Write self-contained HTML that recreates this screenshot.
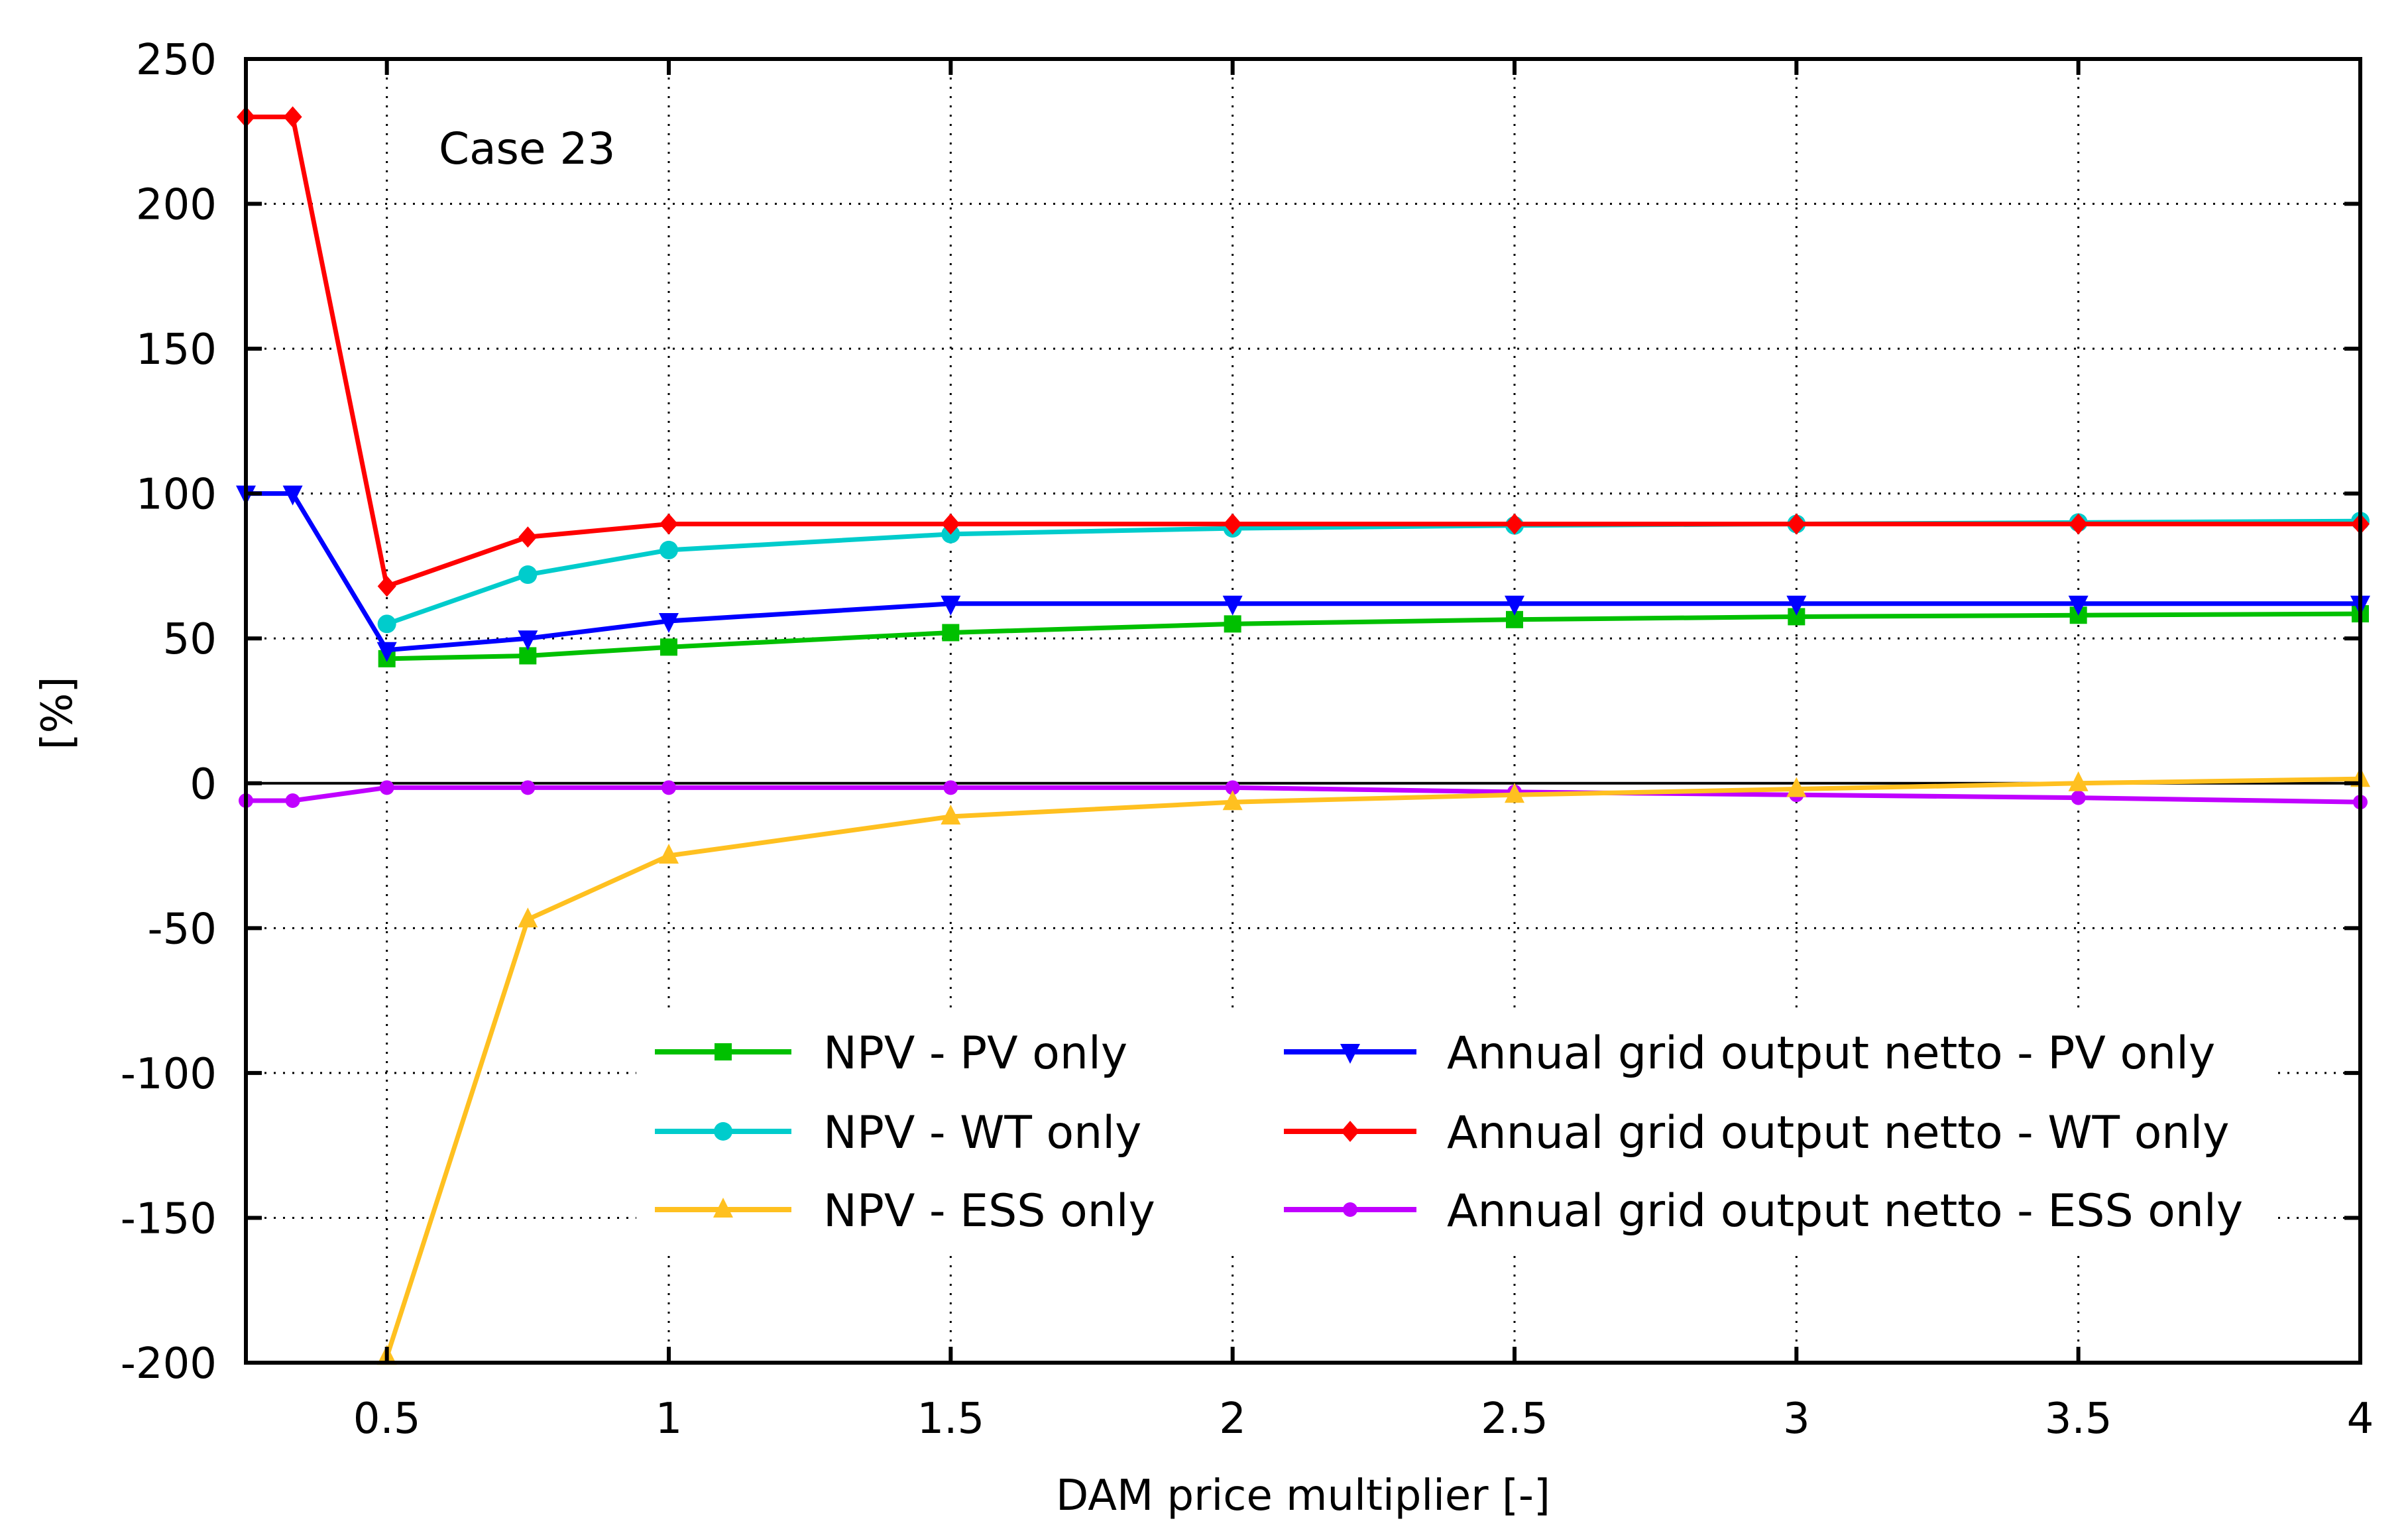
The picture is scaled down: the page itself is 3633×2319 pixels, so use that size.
<!DOCTYPE html>
<html><head><meta charset="utf-8"><style>
html,body{margin:0;padding:0;background:#fff}
svg{display:block}
text{font-family:"DejaVu Sans","Liberation Sans",sans-serif;fill:#000}
</style></head><body>
<svg id="chart" width="3633" height="2319" viewBox="0 0 3633 2319" xmlns="http://www.w3.org/2000/svg">
<g id="grid"></g>
<g id="series"></g>
<rect id="legendbg" x="960" y="1530" width="2470" height="355" fill="#fff"/>
<g id="legend"></g>
<rect x="371" y="89" width="3190" height="1967" fill="none" stroke="#000" stroke-width="6"/>
<g id="axes"></g>
<text x="662" y="247" font-size="66">Case 23</text>
<text x="1966" y="2278" font-size="64" text-anchor="middle">DAM price multiplier [-]</text>
<text x="0" y="0" font-size="64" text-anchor="middle" transform="translate(108,1076) rotate(-90)">[%]</text>
</svg>
<script>
const xFull=[0.25,0.333,0.5,0.75,1,1.5,2,2.5,3,3.5,4];
const xPart=[0.5,0.75,1,1.5,2,2.5,3,3.5,4];
const npvPV=[43,44,47,52,55,56.5,57.5,58,58.5];
const npvWT=[55,72,80.5,86,88,89,89.5,90,90.5];
const npvESS=[-198,-47,-25,-11.5,-6.5,-4,-2,0,1.5];
const gridPV=[100,100,46,50,56,62,62,62,62,62,62];
const gridWT=[230,230,68,85,89.5,89.5,89.5,89.5,89.5,89.5,89.5];
const gridESS=[-6,-6,-1.5,-1.5,-1.5,-1.5,-1.5,-3,-4,-5,-6.5];
const xTicks=[0.5,1,1.5,2,2.5,3,3.5,4];
const xTickLabels=["0.5","1","1.5","2","2.5","3","3.5","4"];
const yTicks=[-200,-150,-100,-50,0,50,100,150,200,250];
const yTickLabels=["-200","-150","-100","-50","0","50","100","150","200","250"];
const seriesNames=["NPV - PV only","NPV - WT only","NPV - ESS only","Annual grid output netto - PV only","Annual grid output netto - WT only","Annual grid output netto - ESS only"];

const L=371,R=3561,T=89,B=2056,XMIN=0.25,XMAX=4,YMIN=-200,YMAX=250;
const sx=v=>L+(v-XMIN)/(XMAX-XMIN)*(R-L);
const sy=v=>B-(v-YMIN)/(YMAX-YMIN)*(B-T);
const NS="http://www.w3.org/2000/svg";
function mk(tag,attrs,parent){const e=document.createElementNS(NS,tag);for(const k in attrs)e.setAttribute(k,attrs[k]);parent.appendChild(e);return e;}
const grid=document.getElementById('grid'),axes=document.getElementById('axes'),ser=document.getElementById('series'),leg=document.getElementById('legend');

xTicks.forEach((v,i)=>{
  const x=sx(v);
  if(v<XMAX){const g=mk('line',{x1:x,y1:T,x2:x,y2:B,stroke:'#000','stroke-width':3,'stroke-dasharray':'3 11'},grid);
  
  }
  mk('line',{x1:x,y1:B,x2:x,y2:B-24,stroke:'#000','stroke-width':6},axes);
  mk('line',{x1:x,y1:T,x2:x,y2:T+24,stroke:'#000','stroke-width':6},axes);
  const t=mk('text',{x:x,y:2162,'font-size':64,'text-anchor':'middle'},axes);
  t.textContent=xTickLabels[i];
  
  
});
yTicks.forEach((v,i)=>{
  const y=sy(v);
  if(v>YMIN&&v<YMAX&&v!==0){const g=mk('line',{x1:L,y1:y,x2:R,y2:y,stroke:'#000','stroke-width':3,'stroke-dasharray':'3 11'},grid);
  
  }
  mk('line',{x1:L,y1:y,x2:L+24,y2:y,stroke:'#000','stroke-width':6},axes);
  mk('line',{x1:R,y1:y,x2:R-24,y2:y,stroke:'#000','stroke-width':6},axes);
  const t=mk('text',{x:327,y:y+23,'font-size':64,'text-anchor':'end'},axes);
  t.textContent=yTickLabels[i];
  
  
});
const zl=mk('line',{x1:L,y1:sy(0),x2:R,y2:sy(0),stroke:'#000','stroke-width':4},grid);



function marker(type,x,y,color,parent){
  let m;
  if(type==='square')m=mk('rect',{x:x-13,y:y-13,width:26,height:26,fill:color},parent);
  else if(type==='circle')m=mk('circle',{cx:x,cy:y,r:14,fill:color},parent);
  else if(type==='tri')m=mk('polygon',{points:`${x},${y-18} ${x+15},${y+12} ${x-15},${y+12}`,fill:color},parent);
  else if(type==='itri')m=mk('polygon',{points:`${x},${y+18} ${x+15},${y-12} ${x-15},${y-12}`,fill:color},parent);
  else if(type==='diamond')m=mk('polygon',{points:`${x},${y-16} ${x+14},${y} ${x},${y+16} ${x-14},${y}`,fill:color},parent);
  else if(type==='pent')m=mk('circle',{cx:x,cy:y,r:11,fill:color},parent);
  return m;
}
const defs=[
 {xs:xPart,ys:npvPV,c:'#00c000',m:'square',n:'npv-pv-only'},
 {xs:xPart,ys:npvWT,c:'#00cccc',m:'circle',n:'npv-wt-only'},
 {xs:xPart,ys:npvESS,c:'#ffc020',m:'tri',n:'npv-ess-only'},
 {xs:xFull,ys:gridPV,c:'#0000ff',m:'itri',n:'grid-output-pv-only'},
 {xs:xFull,ys:gridWT,c:'#ff0000',m:'diamond',n:'grid-output-wt-only'},
 {xs:xFull,ys:gridESS,c:'#c000ff',m:'pent',n:'grid-output-ess-only'}
];
const drawOrder=[5,2,0,3,1,4];
drawOrder.forEach(i=>{
  const d=defs[i];
  const g=mk('g',{},ser);
  
  
  const pts=d.xs.map((x,j)=>sx(x)+','+sy(d.ys[j])).join(' ');
  const pl=mk('polyline',{points:pts,fill:'none',stroke:d.c,'stroke-width':7,'stroke-linejoin':'miter'},g);
  
  
  d.xs.forEach((x,j)=>{
    const m=marker(d.m,sx(x),sy(d.ys[j]),d.c,g);
    
    
  });
});
const rows=[1587,1707,1825];
defs.forEach((d,i)=>{
  const col=i<3?0:1,row=i%3;
  const x1=col?1937:988,x2=col?2137:1194,tx=col?2183:1242,y=rows[row];
  const g=mk('g',{},leg);
  
  
  mk('line',{x1:x1,y1:y,x2:x2,y2:y,stroke:d.c,'stroke-width':8},g);
  marker(d.m,(x1+x2)/2,y,d.c,g);
  const t=mk('text',{x:tx,y:y+25,'font-size':68},g);
  t.textContent=seriesNames[i];
});
</script>
</body></html>
